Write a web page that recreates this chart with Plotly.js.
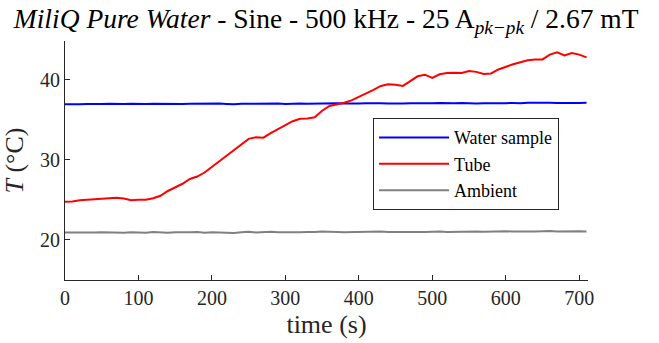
<!DOCTYPE html>
<html>
<head>
<meta charset="utf-8">
<script src="https://cdn.plot.ly/plotly-3.0.1.min.js"></script>
<style>html,body{margin:0;padding:0;background:#fff;}#chart{width:659px;height:343px;}</style>
</head>
<body>
<div id="chart"></div>
<script>
const time = [0,10,20,30,40,50,60,70,80,90,100,110,120,130,140,150,160,170,180,190,200,210,220,230,240,250,260,270,280,290,300,310,320,330,340,350,360,370,380,390,400,410,420,430,440,450,460,470,480,490,500,510,520,530,540,550,560,570,580,590,600,610,620,630,640,650,660,670,680,690,700,710];

const waterSample = [36.9,36.88,36.92,36.95,36.9,36.93,36.97,36.92,36.95,36.98,
36.93,36.95,36.97,36.94,36.98,36.96,36.93,36.97,37.0,36.95,
36.97,37.0,36.96,36.92,36.98,37.0,36.97,37.02,36.98,37.0,
36.96,37.0,37.02,36.98,37.01,36.97,37.0,37.03,37.0,36.98,
37.02,37.05,37.0,37.03,37.0,36.97,37.02,37.05,37.02,37.0,
37.03,37.06,37.02,37.05,37.07,37.03,37.0,37.05,37.03,37.07,
37.05,37.08,37.04,37.1,37.07,37.05,37.1,37.08,37.06,37.1,37.08,37.1];

const tube = [24.75,24.8,24.95,25.0,25.05,25.15,25.2,25.25,25.15,24.95,
25.0,25.0,25.2,25.5,26.1,26.55,27.0,27.6,27.9,28.4,
29.1,29.8,30.5,31.2,32.0,32.6,32.8,32.75,33.3,33.8,
34.3,34.8,35.1,35.15,35.3,36.1,36.7,36.9,37.1,37.4,
37.8,38.2,38.7,39.2,39.4,39.35,39.2,39.8,40.4,40.6,
40.2,40.65,40.8,40.85,40.8,41.05,40.95,40.7,40.75,41.25,
41.6,41.9,42.15,42.4,42.5,42.5,43.1,43.4,43.0,43.3,43.1,42.75];

const ambient = [20.92,20.9,20.93,20.88,20.92,20.95,20.9,20.93,20.88,20.95,
20.92,20.9,20.97,20.93,20.9,20.95,20.92,20.95,20.98,20.9,
20.95,20.92,20.98,20.87,20.95,21.02,20.92,20.97,21.03,20.95,
20.92,20.98,20.95,21.0,20.97,21.05,20.98,21.0,20.95,20.97,
21.02,20.98,21.0,21.05,20.98,21.02,21.0,20.97,21.03,21.0,
21.02,21.06,21.0,21.03,21.08,21.02,21.05,21.03,21.07,21.04,
21.08,21.05,21.1,21.06,21.04,21.08,21.1,21.06,21.08,21.12,21.07,21.05];

const seriesNames = ['Water sample','Tube','Ambient'];
const seriesColors = ['#0000ff','#ff0000','#808080'];
const xTicks = [0,100,200,300,400,500,600,700];
const yTicks = [20,30,40];

const FONT = '"Liberation Serif", "DejaVu Serif", serif';
const INK = '#262626';

const traces = [waterSample, tube, ambient].map((ys, i) => ({
  type: 'scatter', mode: 'lines', x: time, y: ys, name: seriesNames[i],
  line: {color: seriesColors[i], width: 2}
}));

const layout = {
  width: 659, height: 343,
  margin: {l: 65, r: 71, t: 41, b: 63},
  paper_bgcolor: '#fff', plot_bgcolor: '#fff',
  font: {family: FONT, color: INK},
  title: {
    text: '<i>MiliQ Pure Water</i> - Sine - 500 kHz - 25 A<sub><i>pk\u2212pk</i></sub> / 2.67 mT',
    font: {family: FONT, size: 27.5, color: '#000'},
    x: 0.495, xanchor: 'center', y: 0.945, yanchor: 'middle'
  },
  xaxis: {
    range: [0, 712], tickvals: xTicks, ticktext: xTicks.map(String),
    ticks: 'inside', ticklen: 5, tickcolor: INK, tickwidth: 1,
    showline: true, linecolor: INK, linewidth: 1, mirror: false,
    showgrid: false, zeroline: false,
    tickfont: {family: FONT, size: 20, color: INK},
    title: {text: 'time (s)', font: {family: FONT, size: 26, color: INK}, standoff: 6}
  },
  yaxis: {
    range: [15, 44.8], tickvals: yTicks, ticktext: yTicks.map(String),
    ticks: 'inside', ticklen: 5, tickcolor: INK, tickwidth: 1,
    showline: true, linecolor: INK, linewidth: 1, mirror: false,
    showgrid: false, zeroline: false,
    tickfont: {family: FONT, size: 20, color: INK},
    title: {text: '<i>T</i> (\u00b0C)', font: {family: FONT, size: 26, color: INK}, standoff: 8}
  },
  showlegend: true,
  legend: {
    x: 0.589, y: 0.677, xanchor: 'left', yanchor: 'top',
    bgcolor: '#fff', bordercolor: INK, borderwidth: 1,
    font: {family: FONT, size: 18, color: '#000'},
    tracegroupgap: 0, itemwidth: 70
  }
};

Plotly.newPlot('chart', traces, layout, {displayModeBar: false, staticPlot: true});
</script>
</body>
</html>
